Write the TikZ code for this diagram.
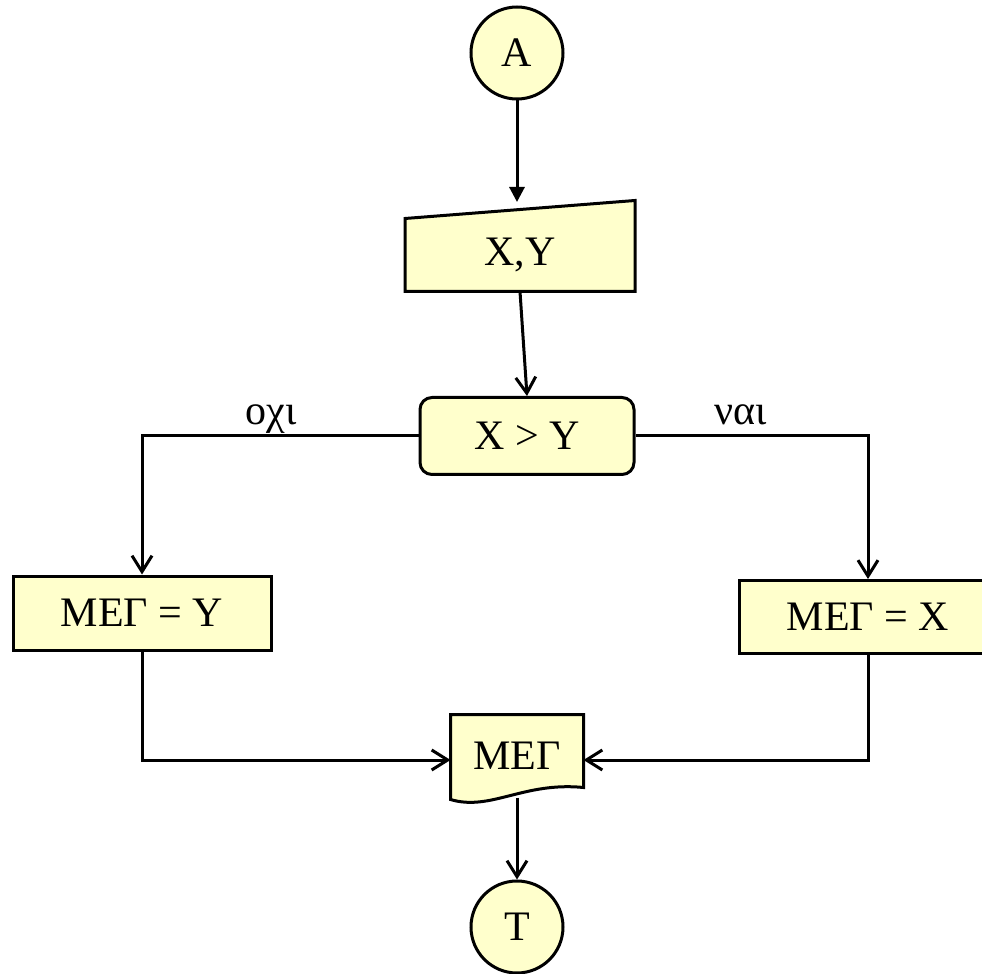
\documentclass[tikz,border=0pt]{standalone}
\usepackage{fontspec}
\setmainfont{Liberation Serif}
\usetikzlibrary{calc}
\usetikzlibrary{backgrounds}
\usetikzlibrary{arrows.meta}
\definecolor{boxfill}{RGB}{255,255,204}

\begin{document}
\begin{tikzpicture}[x=0.5pt, y=-0.5pt, line width=1.5pt, every node/.style={font=\fontsize{21}{25}\selectfont}]
				\tikzstyle{termnode}=[circle, draw=black, fill=boxfill, minimum size=46pt, inner sep=0pt]
				\tikzstyle{procnode}=[rectangle, draw=black, fill=boxfill, minimum height=37pt, minimum width=129pt, inner sep=0pt]
				\tikzstyle{testnode}=[rectangle, rounded corners=6pt, draw=black, fill=boxfill, minimum height=38.5pt, minimum width=107pt, inner sep=0pt]
				\tikzstyle{plainnode}=[rectangle, draw=none, fill=none, inner sep=0pt]
				\tikzstyle{ioshape}=[draw=black, fill=boxfill, line width=1.5pt, line join=miter]
				\tikzstyle{flow}=[-{Straight Barb[length=8pt,width=10pt]}]
				
				\useasboundingbox (0,0) rectangle (982,974);
				
				\node (t0) at (517,53) [termnode] {Α};
				\node (t1) at (520,255) [plainnode, minimum width=113.5pt, minimum height=35pt] {X,Y};
				\node (t2) at (527,436) [testnode] {X > Y};
				\node (t3) at (142,613) [procnode] {ΜΕΓ = Υ};
				\node (t4) at (868,617) [procnode, minimum height=36.5pt] {ΜΕΓ = X};
				\node (t5) at (517,756) [plainnode, minimum width=65pt, minimum height=40pt] {ΜΕΓ};
				\node (t6) at (517,927) [termnode] {Τ};
				
				\node (tno) at (271,424) [anchor=base] {οχι};
				\node (tyes) at (741,424) [anchor=base] {ναι};
				
				\coordinate (t1top) at (517,202);
				
				% shapes behind the input and output nodes
				\begin{scope}[on background layer]
				\path [ioshape] (t1.south west) -- (t1.south east) -- ($(t1.north east)+(0,-18)$) -- (t1.north west) -- cycle;
				\path [ioshape] (t5.north west) -- (t5.north east) -- ($(t5.south east)+(0,-10)$)
					.. controls ($(t5.south east)+(-60,-16)$) and ($(t5.south west)+(40,14)$) .. ($(t5.south west)+(0,2)$) -- cycle;
				\end{scope}
				
				\draw [-{Triangle[length=7.5pt,width=7.5pt]}] (t0) -- (t1top);
				\draw [flow] (t1.south) -- (t2.north);
				\draw [flow] (t2.west) -| (t3.north);
				\draw [flow] (t2.east) -| (t4.north);
				\draw [flow] (t3.south) |- ([yshift=-2pt]t5.west);
				\draw [flow] (t4.south) |- ([yshift=-2pt]t5.east);
				\draw [flow] (t5.south) -- (t6);
				
\end{tikzpicture}
\end{document}
